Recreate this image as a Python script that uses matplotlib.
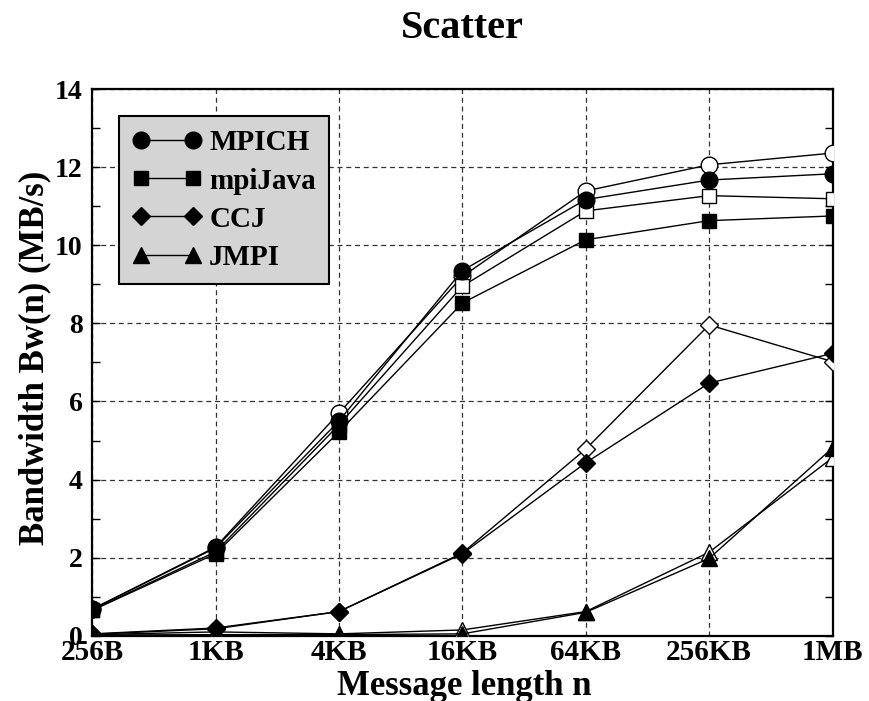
import matplotlib
matplotlib.use("Agg")
import matplotlib.pyplot as plt
from matplotlib.ticker import MultipleLocator

# ── data ──────────────────────────────────────────────────────────────────────
sizes = ["256B", "1KB", "4KB", "16KB", "64KB", "256KB", "1MB"]

mpich        = [0.68, 2.25, 5.50, 9.35, 11.17, 11.67, 11.83]
mpich_open   = [0.68, 2.27, 5.70, 9.20, 11.39, 12.06, 12.36]
mpijava      = [0.65, 2.10, 5.22, 8.52, 10.14, 10.63, 10.75]
mpijava_open = [0.66, 2.15, 5.40, 8.95, 10.88, 11.27, 11.19]
ccj          = [0.04, 0.18, 0.62, 2.10, 4.43, 6.47, 7.23]
ccj_open     = [0.05, 0.20, 0.62, 2.12, 4.78, 7.96, 7.02]
jmpi         = [0.02, 0.03, 0.03, 0.05, 0.60, 1.98, 4.81]
jmpi_open    = [0.03, 0.10, 0.05, 0.15, 0.62, 2.14, 4.56]

series = [
    ("MPICH", mpich, mpich_open, "o"),
    ("mpiJava", mpijava, mpijava_open, "s"),
    ("CCJ", ccj, ccj_open, "D"),
    ("JMPI", jmpi, jmpi_open, "^"),
]

# ── figure ────────────────────────────────────────────────────────────────────
plt.rcParams["font.family"] = ["Liberation Serif", "DejaVu Serif"]
plt.rcParams["font.weight"] = "bold"

fig = plt.figure(figsize=(8.69, 7.01), dpi=100)
ax = fig.add_axes([0.106, 0.093, 0.852, 0.780])

x = range(len(sizes))
msize = {"o": 12, "s": 10, "D": 9, "^": 11}
for name, filled, hollow, m in series:
    ax.plot(x, hollow, color="black", lw=1.0, marker=m, ms=msize[m],
            mfc="white", mec="black", mew=1.0, zorder=3)
    ax.plot(x, filled, color="black", lw=1.0, marker=m, ms=msize[m],
            mfc="black", mec="black", label=name, zorder=4)

ax.set_xlim(0, len(sizes) - 1)
ax.set_ylim(0, 14)
ax.set_xticks(list(x))
ax.set_xticklabels(sizes)
ax.yaxis.set_major_locator(MultipleLocator(2))
ax.yaxis.set_minor_locator(MultipleLocator(1))

ax.grid(True, which="major", color="#333333", ls=(0, (4, 3)), lw=0.9)
ax.tick_params(axis="y", which="both", direction="in", right=True,
               labelsize=20, length=6, width=1.0, pad=7)
ax.tick_params(axis="x", length=0, labelsize=21, pad=2)
for sp in ax.spines.values():
    sp.set_linewidth(1.6)

for lab in ax.get_xticklabels() + ax.get_yticklabels():
    lab.set_fontweight("bold")

fig.text(0.534, 0.009, "Message length n", fontsize=25, fontweight="bold",
         ha="center", va="baseline")
fig.text(0.040, 0.489, "Bandwidth Bw(n) (MB/s)", fontsize=25, fontweight="bold",
         ha="center", va="center", rotation=90)
fig.text(0.532, 0.96, "Scatter", fontsize=29, fontweight="bold",
         ha="center", va="center")

leg = ax.legend(loc="upper left", bbox_to_anchor=(0.036, 0.95), numpoints=2,
                fontsize=21, frameon=True, fancybox=False, handlelength=2.4,
                handletextpad=0.25, borderpad=0.45, labelspacing=0.38,
                borderaxespad=0)
leg.get_frame().set_facecolor("#d4d4d4")
leg.get_frame().set_edgecolor("black")
leg.get_frame().set_linewidth(1.5)
leg.get_frame().set_alpha(1)
for t in leg.get_texts():
    t.set_fontweight("bold")

fig.savefig("out.png", dpi=100, facecolor="white")
